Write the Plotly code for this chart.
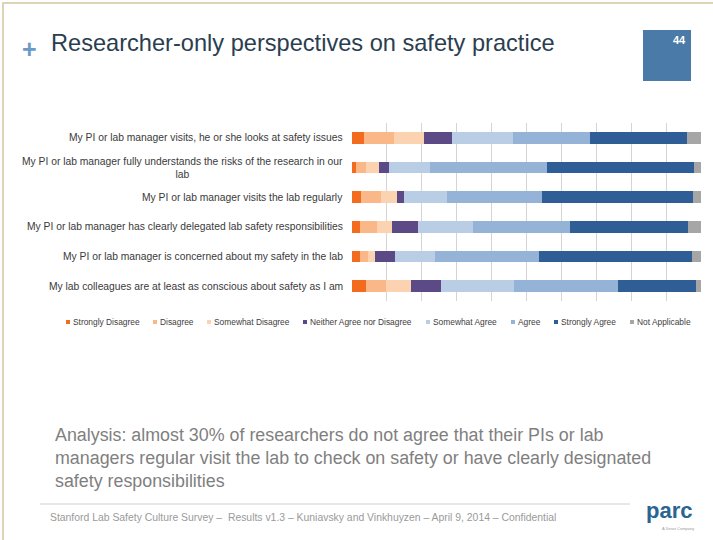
import plotly.graph_objects as go

# ---------------- data ----------------
categories = [
    "My PI or lab manager visits, he or she looks at safety issues",
    "My PI or lab manager fully understands the risks of the research in our<br>lab",
    "My PI or lab manager visits the lab regularly",
    "My PI or lab manager has clearly delegated lab safety responsibilities",
    "My PI or lab manager is concerned about my safety in the lab",
    "My lab colleagues are at least as conscious about safety as I am",
]

series_names = [
    "Strongly Disagree", "Disagree", "Somewhat Disagree",
    "Neither Agree nor Disagree", "Somewhat Agree", "Agree",
    "Strongly Agree", "Not Applicable",
]

strongly_disagree = [3.3, 1.1, 2.6, 2.4, 2.3, 4.0]
disagree = [8.7, 2.8, 5.8, 4.8, 2.3, 5.6]
somewhat_disagree = [8.5, 3.7, 4.5, 4.3, 2.1, 7.2]
neither = [8.2, 2.9, 2.1, 7.4, 5.5, 8.6]
somewhat_agree = [17.5, 11.8, 12.3, 15.7, 11.5, 20.9]
agree = [22.1, 33.7, 27.0, 28.0, 30.0, 29.9]
strongly_agree = [27.8, 42.0, 43.3, 33.7, 43.8, 22.3]
not_applicable = [3.8, 2.2, 2.4, 3.8, 2.5, 1.4]

series_values = [strongly_disagree, disagree, somewhat_disagree, neither,
                 somewhat_agree, agree, strongly_agree, not_applicable]

# ---------------- styles / layout ----------------
colors = ["#f36c1e", "#fab787", "#fcd3b1", "#5b4a86",
          "#b9cde5", "#95b3d7", "#2f5d95", "#a6a6a6"]

W, H = 713, 540
L, R, T, B = 352, 12, 123, 239
PW, PH = W - L - R, H - T - B
FONT = "Liberation Sans, Arial, sans-serif"


def px_x(px):
    return (px - L) / PW


def px_y(py):
    return (H - B - py) / PH


fig = go.Figure()
for name, vals, col in zip(series_names, series_values, colors):
    fig.add_trace(go.Bar(
        y=categories, x=vals, name=name, orientation="h",
        marker=dict(color=col, line=dict(width=0)),
        width=0.4, showlegend=False, hoverinfo="x+name",
    ))

annotations = []
shapes = []

# category labels (right aligned block, centered lines)
for cat in categories:
    annotations.append(dict(
        x=0, xref="paper", y=cat, yref="y", xanchor="right", yanchor="middle",
        xshift=-7, text=cat, showarrow=False, align="center",
        font=dict(family=FONT, size=10.3, color="#3a3a3a"),
    ))

# manual legend (small squares + text)
legend_px = [66, 153, 207, 303, 426, 511, 554, 630]
legend_y = 322
for name, col, lx in zip(series_names, colors, legend_px):
    shapes.append(dict(type="rect", xref="paper", yref="paper",
                       x0=px_x(lx), x1=px_x(lx + 4),
                       y0=px_y(legend_y + 2), y1=px_y(legend_y - 2),
                       fillcolor=col, line=dict(width=0)))
    annotations.append(dict(
        x=px_x(lx + 5), xref="paper", y=px_y(legend_y), yref="paper",
        xanchor="left", yanchor="middle", text=name, showarrow=False,
        font=dict(family=FONT, size=8.4, color="#404040"),
    ))

# slide frame
shapes.append(dict(type="line", xref="paper", yref="paper",
                   x0=px_x(3), x1=px_x(3), y0=px_y(540), y1=px_y(2),
                   line=dict(color="#ddd4b8", width=2)))
shapes.append(dict(type="line", xref="paper", yref="paper",
                   x0=px_x(2), x1=px_x(713), y0=px_y(3), y1=px_y(3),
                   line=dict(color="#ddd4b8", width=2)))

# page number box
shapes.append(dict(type="rect", xref="paper", yref="paper",
                   x0=px_x(643), x1=px_x(691), y0=px_y(81), y1=px_y(30),
                   fillcolor="#4a7aa7", line=dict(width=0)))
annotations.append(dict(
    x=px_x(688), xref="paper", y=px_y(40), yref="paper",
    xanchor="right", yanchor="middle", text="<b>44</b>", showarrow=False,
    font=dict(family=FONT, size=11, color="white"),
))

# title
annotations.append(dict(
    x=px_x(20), xref="paper", y=px_y(49), yref="paper",
    xanchor="left", yanchor="middle", text="<b>+</b>", showarrow=False,
    font=dict(family=FONT, size=25, color="#6b9ac6"),
))
annotations.append(dict(
    x=px_x(49), xref="paper", y=px_y(43), yref="paper",
    xanchor="left", yanchor="middle",
    text="Researcher-only perspectives on safety practice", showarrow=False,
    font=dict(family=FONT, size=23.6, color="#2b3e50"),
))

# analysis text
annotations.append(dict(
    x=px_x(53), xref="paper", y=px_y(458), yref="paper",
    xanchor="left", yanchor="middle", align="left",
    text=("Analysis: almost 30% of researchers do not agree that their PIs or lab<br>"
          "managers regular visit the lab to check on safety or have clearly designated<br>"
          "safety responsibilities"),
    showarrow=False,
    font=dict(family=FONT, size=17.85, color="#7f7f7f"),
))

# footer
shapes.append(dict(type="line", xref="paper", yref="paper",
                   x0=px_x(40), x1=px_x(630), y0=px_y(504), y1=px_y(504),
                   line=dict(color="#d0d0d0", width=1)))
annotations.append(dict(
    x=px_x(48), xref="paper", y=px_y(517), yref="paper",
    xanchor="left", yanchor="middle",
    text=("Stanford Lab Safety Culture Survey \u2013  Results v1.3 \u2013 "
          "Kuniavsky and Vinkhuyzen \u2013 April 9, 2014 \u2013 Confidential"),
    showarrow=False,
    font=dict(family=FONT, size=10.4, color="#9a9a9a"),
))
annotations.append(dict(
    x=px_x(669), xref="paper", y=px_y(510), yref="paper",
    xanchor="center", yanchor="middle", text="<b>parc</b>", showarrow=False,
    font=dict(family=FONT, size=22, color="#2a6592"),
))
annotations.append(dict(
    x=px_x(678), xref="paper", y=px_y(528), yref="paper",
    xanchor="center", yanchor="middle", text="A Xerox Company", showarrow=False,
    font=dict(family=FONT, size=4, color="#9a9a9a"),
))

fig.update_layout(
    width=W, height=H,
    margin=dict(l=L, r=R, t=T, b=B, pad=0),
    barmode="stack",
    bargap=0.6,
    paper_bgcolor="white", plot_bgcolor="white",
    font=dict(family=FONT),
    xaxis=dict(range=[0, 100], dtick=10, showgrid=True, gridcolor="#d4d4d4",
               gridwidth=1, zeroline=False, showticklabels=False,
               showline=False, ticks="", fixedrange=True),
    yaxis=dict(autorange="reversed", showticklabels=False, showgrid=False,
               zeroline=False, showline=False, ticks="", fixedrange=True),
    annotations=annotations,
    shapes=shapes,
    showlegend=False,
)

fig.write_html(
    "out.html",
    config={"displayModeBar": False},
    post_script=("document.body.style.margin='0px';"
                 "document.body.style.padding='0px';"
                 "document.documentElement.style.overflow='hidden';"),
)
